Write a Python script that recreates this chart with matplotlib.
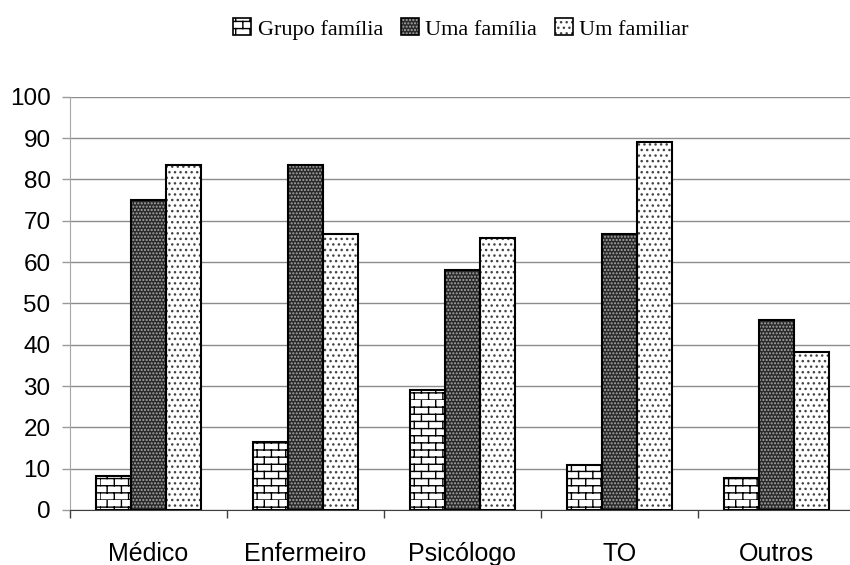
"""Bar chart: family intervention by professional (grouped, hatched bars)."""

import warnings

import matplotlib
matplotlib.use("Agg")
import matplotlib.pyplot as plt
from matplotlib import hatch as mhatch
from matplotlib.patches import Patch

warnings.filterwarnings("ignore", category=matplotlib.MatplotlibDeprecationWarning)

categories = ["Médico", "Enfermeiro", "Psicólogo", "TO", "Outros"]
series_names = ["Grupo família", "Uma família", "Um familiar"]
grupo_familia = [8.3, 16.5, 29.0, 10.9, 7.8]
uma_familia = [75.0, 83.4, 58.0, 66.7, 46.0]
um_familiar = [83.4, 66.7, 65.7, 89.0, 38.3]
y_ticks = list(range(0, 101, 10))


class BrickHatch(mhatch.HatchPatternBase):
    """Brick-wall hatch, triggered by 'b' in the hatch string."""

    def __init__(self, hatch, density):
        self.num_rows = 14 if "b" in hatch else 0
        self.num_bricks = 7
        self.num_vertices = self.num_rows * 2 + self.num_rows * self.num_bricks * 2

    def set_vertices_and_codes(self, vertices, codes):
        k = 0
        for i in range(self.num_rows):
            y0 = i / self.num_rows
            y1 = (i + 1) / self.num_rows
            vertices[k] = (0.0, y0)
            vertices[k + 1] = (1.0, y0)
            codes[k] = mhatch.Path.MOVETO
            codes[k + 1] = mhatch.Path.LINETO
            k += 2
            shift = 0.5 * (i % 2)
            for j in range(self.num_bricks):
                x = (j + shift) / self.num_bricks
                vertices[k] = (x, y0)
                vertices[k + 1] = (x, y1)
                codes[k] = mhatch.Path.MOVETO
                codes[k + 1] = mhatch.Path.LINETO
                k += 2


mhatch._hatch_types.append(BrickHatch)

plt.rcParams["font.family"] = ["Liberation Sans", "DejaVu Sans"]
plt.rcParams["hatch.linewidth"] = 1.0

# (face colour, hatch colour, hatch) per series
styles = [
    ("white", "black", "b"),
    ("#2a2a2a", "#a8a8a8", "....."),
    ("white", "#444444", "..."),
]

fig = plt.figure(figsize=(8.5, 5.65), dpi=100)
ax = fig.add_axes([70 / 850, 1 - 510 / 565, 784.5 / 850, 413.3 / 565])

x = list(range(len(categories)))
width = 0.223
handles = []
for s, values in enumerate([grupo_familia, uma_familia, um_familiar]):
    face, hcol, hatch = styles[s]
    pos = [xi + (s - 1) * width for xi in x]
    ax.bar(pos, values, width, color=face, edgecolor=hcol, hatch=hatch,
           linewidth=0, zorder=3)
    ax.bar(pos, values, width, fill=False, edgecolor="black",
           linewidth=1.5, zorder=4)
    handles.append((Patch(facecolor=face, edgecolor=hcol, hatch=hatch, linewidth=0),
                    Patch(fill=False, edgecolor="black", linewidth=1.2)))

ax.set_xlim(-0.5, len(categories) - 0.5)
ax.set_ylim(0, 100)
ax.set_yticks(y_ticks)
ax.set_yticklabels([str(v) for v in y_ticks], fontsize=17.5)
ax.set_xticks(x)
ax.set_xticklabels(categories, fontsize=18)
ax.set_xticks([xi - 0.5 for xi in x] + [len(categories) - 0.5], minor=True)
ax.tick_params(axis="x", which="major", length=0, pad=23)
ax.tick_params(axis="x", which="minor", length=6, width=1, color="#404040")
ax.tick_params(axis="y", length=6, width=1, color="#9a9a9a", pad=8)

ax.grid(axis="y", color="#8c8c8c", linewidth=1, zorder=0)
ax.set_axisbelow(True)
for side in ("top", "right"):
    ax.spines[side].set_visible(False)
ax.spines["left"].set_color("#a6a6a6")
ax.spines["bottom"].set_color("#404040")
ax.spines["bottom"].set_zorder(5)

ax.legend(handles, series_names, loc="center",
          bbox_to_anchor=(461 / 850, 1 - 29 / 565),
          bbox_transform=fig.transFigure, ncol=3, frameon=False,
          prop={"family": "Liberation Serif", "size": 16},
          handlelength=0.8, handleheight=0.8, handletextpad=0.3,
          columnspacing=0.8)

fig.savefig("out.png", dpi=100)
